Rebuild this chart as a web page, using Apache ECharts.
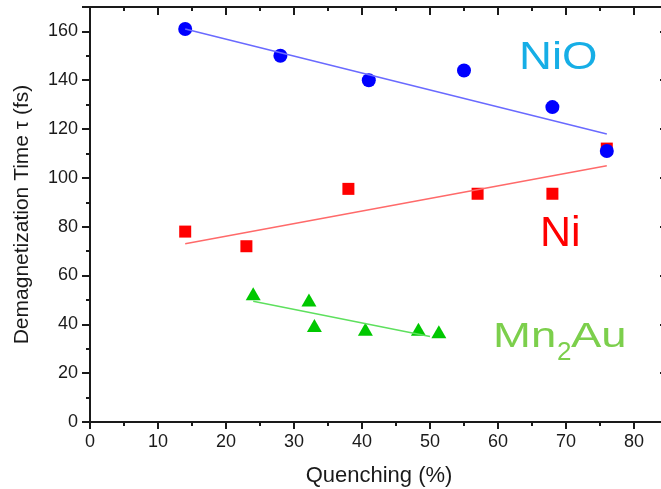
<!DOCTYPE html>
<html>
<head>
<meta charset="utf-8">
<script src="https://cdn.jsdelivr.net/npm/echarts@6/dist/echarts.min.js"></script>
<style>
  html, body { margin: 0; padding: 0; background: #fff; }
  #chart { width: 661px; height: 489px; }
</style>
</head>
<body>
<div id="chart"></div>
<script>
// measured points
var quenchNiO = [14, 28, 41, 55, 68, 76];
var tauNiO = [161, 150, 140, 144, 129, 111];
var quenchNi = [14, 23, 38, 57, 68, 76];
var tauNi = [78, 72, 95.5, 93.5, 93.5, 112];
var quenchMn2Au = [24, 32.2, 33, 40.5, 48.3, 51.3];
var tauMn2Au = [52.5, 50, 39.5, 38, 38, 37];

// linear fit end points
var fitNiOX = [14, 76];
var fitNiOY = [161, 118];
var fitNiX = [14, 76];
var fitNiY = [73, 105];
var fitMn2AuX = [24, 50];
var fitMn2AuY = [49.5, 35];

var xTicks = [0, 10, 20, 30, 40, 50, 60, 70, 80];
var yTicks = [0, 20, 40, 60, 80, 100, 120, 140, 160];

function pairs(xs, ys) {
    return xs.map(function (x, i) { return [x, ys[i]]; });
}

var FONT = 'Liberation Sans, Arial, sans-serif';
var INK = '#1a1a1a';

function axisBase(extra) {
    var a = {
        type: 'value',
        splitLine: { show: false },
        axisLine: { show: false, onZero: false, lineStyle: { color: INK, width: 2 } },
        axisTick: { show: true, lineStyle: { color: INK, width: 2 } },
        axisLabel: { show: false }
    };
    for (var k in extra) a[k] = extra[k];
    return a;
}

var chart = echarts.init(document.getElementById('chart'));

var option = {
    animation: false,
    grid: { left: 90, right: -7, top: 7, bottom: 67, outerBoundsMode: 'none' },
    xAxis: [
        axisBase({
            position: 'bottom', min: 0, max: 85, interval: 10,
            axisLine: { show: true, onZero: false, lineStyle: { color: INK, width: 2 } },
            axisTick: { show: true, length: 7, lineStyle: { color: INK, width: 2 } },
            axisLabel: {
                show: true, fontSize: 18, margin: 11, color: INK, fontFamily: FONT,
                formatter: function (v) { return xTicks.indexOf(v) >= 0 ? String(v) : ''; }
            },
            name: 'Quenching (%)', nameLocation: 'middle', nameGap: 43,
            nameTextStyle: { fontSize: 22, color: INK, fontFamily: FONT }
        }),
        axisBase({
            position: 'bottom', min: 0, max: 85, interval: 5,
            axisTick: { show: true, length: 4, lineStyle: { color: INK, width: 2 } }
        }),
        axisBase({
            position: 'top', min: 0, max: 85, interval: 10,
            axisLine: { show: true, onZero: false, lineStyle: { color: INK, width: 2 } },
            axisTick: { show: true, inside: true, length: 8, lineStyle: { color: INK, width: 2 } }
        }),
        axisBase({
            position: 'top', min: 0, max: 85, interval: 5,
            axisTick: { show: true, inside: true, length: 4, lineStyle: { color: INK, width: 2 } }
        })
    ],
    yAxis: [
        axisBase({
            position: 'left', min: 0, max: 170, interval: 20,
            axisLine: { show: true, onZero: false, lineStyle: { color: INK, width: 2 } },
            axisTick: { show: true, length: 8, lineStyle: { color: INK, width: 2 } },
            axisLabel: {
                show: true, fontSize: 18, margin: 12, color: INK, fontFamily: FONT,
                formatter: function (v) { return yTicks.indexOf(v) >= 0 ? String(v) : ''; }
            },
            name: 'Demagnetization Time \u03c4 (fs)', nameLocation: 'middle', nameGap: 57,
            nameTextStyle: { fontSize: 21, color: INK, fontFamily: FONT }
        }),
        axisBase({
            position: 'left', min: 0, max: 170, interval: 10,
            axisTick: { show: true, length: 4, lineStyle: { color: INK, width: 2 } }
        }),
        axisBase({
            position: 'right', min: 0, max: 170, interval: 20,
            axisLine: { show: true, onZero: false, lineStyle: { color: INK, width: 2 } },
            axisTick: { show: true, inside: true, length: 8, lineStyle: { color: INK, width: 2 } }
        })
    ],
    series: [
        {
            type: 'line', data: pairs(fitNiOX, fitNiOY), showSymbol: false, silent: true,
            lineStyle: { color: '#6a6aff', width: 1.5 }
        },
        {
            type: 'line', data: pairs(fitNiX, fitNiY), showSymbol: false, silent: true,
            lineStyle: { color: '#ff6a6a', width: 1.5 }
        },
        {
            type: 'line', data: pairs(fitMn2AuX, fitMn2AuY), showSymbol: false, silent: true,
            lineStyle: { color: '#5ee05e', width: 1.5 }
        },
        {
            name: 'Ni', type: 'scatter', symbol: 'rect', symbolSize: 12,
            data: pairs(quenchNi, tauNi), itemStyle: { color: '#ff0000', opacity: 1 }
        },
        {
            name: 'NiO', type: 'scatter', symbol: 'circle', symbolSize: 14,
            data: pairs(quenchNiO, tauNiO), itemStyle: { color: '#0000ff', opacity: 1 }
        },
        {
            name: 'Mn2Au', type: 'scatter', symbol: 'triangle', symbolSize: [15, 13],
            data: pairs(quenchMn2Au, tauMn2Au), itemStyle: { color: '#00c800', opacity: 1 }
        }
    ],
    graphic: [
        { type: 'text', x: 519, y: 59, scaleX: 1.2,
          style: { x: 0, y: 0, text: 'NiO', fill: '#16aee6', font: '38px ' + FONT, textVerticalAlign: 'middle' } },
        { type: 'text', x: 540, y: 234,
          style: { x: 0, y: 0, text: 'Ni', fill: '#ff0000', font: '43px ' + FONT, textVerticalAlign: 'middle' } },
        { type: 'text', x: 493, y: 337, scaleX: 1.3,
          style: { x: 0, y: 0, text: 'Mn', fill: '#7ccf4c', font: '35px ' + FONT, textVerticalAlign: 'middle' } },
        { type: 'text', x: 557, y: 353,
          style: { x: 0, y: 0, text: '2', fill: '#7ccf4c', font: '26px ' + FONT, textVerticalAlign: 'middle' } },
        { type: 'text', x: 571, y: 337, scaleX: 1.3,
          style: { x: 0, y: 0, text: 'Au', fill: '#7ccf4c', font: '35px ' + FONT, textVerticalAlign: 'middle' } }
    ]
};

chart.setOption(option);
</script>
</body>
</html>
